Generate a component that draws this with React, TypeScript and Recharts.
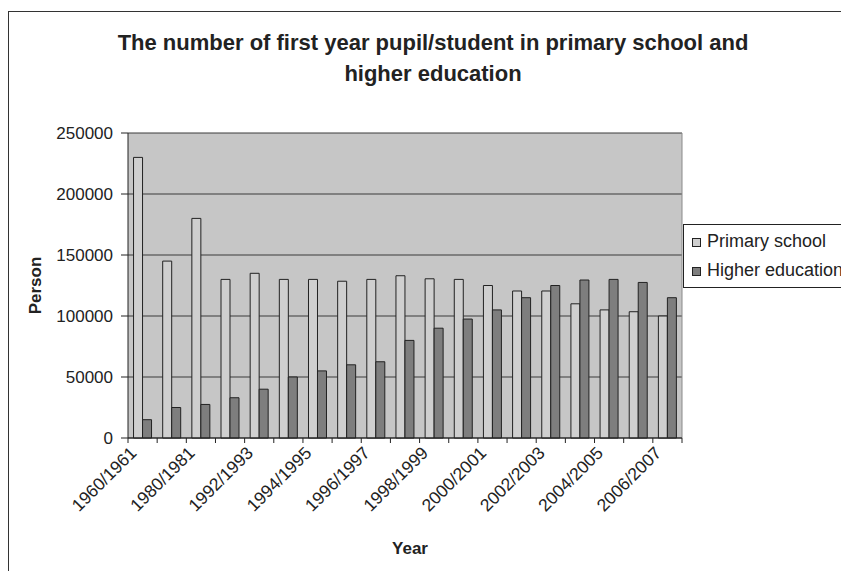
import React from 'react';
import { BarChart, Bar, XAxis, YAxis, CartesianGrid, Legend, Label } from 'recharts';

// School years on the category axis (only every other one is labelled)
const years = [
  '1960/1961', '1970/1971', '1980/1981', '1990/1991', '1992/1993', '1993/1994',
  '1994/1995', '1995/1996', '1996/1997', '1997/1998', '1998/1999', '1999/2000',
  '2000/2001', '2001/2002', '2002/2003', '2003/2004', '2004/2005', '2005/2006',
  '2006/2007',
];

// First-year pupils entering primary school
const primarySchool = [
  230000, 145000, 180000, 130000, 135000, 130000, 130000, 128500, 130000, 133000,
  130500, 130000, 125000, 120500, 120500, 110000, 105000, 103500, 100000,
];

// First-year students entering higher education
const higherEducation = [
  15000, 25000, 27500, 33000, 40000, 50000, 55000, 60000, 62500, 80000,
  90000, 97500, 105000, 115000, 125000, 129500, 130000, 127500, 115000,
];

const yTicks = [0, 50000, 100000, 150000, 200000, 250000];

const seriesOrder = ['Primary school', 'Higher education'];

const data = years.map((year, i) => ({
  year,
  primary: primarySchool[i],
  higher: higherEducation[i],
}));

const FONT = '"Liberation Sans", Arial, Helvetica, sans-serif';
const INK = '#222';

// Category ticks sit on the boundaries between groups; labels on every other group
const YearTick = (props: any) => {
  const { x, y, payload, index, visibleTicksCount } = props;
  const half = payload && typeof payload.offset === 'number' && payload.offset > 0 ? payload.offset : 14.6;
  const isLast = index === (visibleTicksCount ?? years.length) - 1;
  const tx = x - 5;
  const ty = y + 16;
  return (
    <g>
      <line x1={x - half} y1={y} x2={x - half} y2={y + 5} stroke={INK} strokeWidth={1} />
      {isLast && <line x1={x + half} y1={y} x2={x + half} y2={y + 5} stroke={INK} strokeWidth={1} />}
      {index % 2 === 0 && (
        <text
          x={tx}
          y={ty}
          transform={`rotate(-45, ${tx}, ${ty})`}
          textAnchor="end"
          fontSize={17.5}
          fontFamily={FONT}
          fill={INK}
        >
          {payload.value}
        </text>
      )}
    </g>
  );
};

const LegendBox = (props: any) => {
  const items = [...(props.payload ?? [])].sort(
    (a: any, b: any) => seriesOrder.indexOf(a.value) - seriesOrder.indexOf(b.value)
  );
  return (
    <div
      style={{
        border: `1px solid ${INK}`,
        background: '#fff',
        padding: '2px 0 2px 8px',
        fontFamily: FONT,
        fontSize: 18,
        color: INK,
        whiteSpace: 'nowrap',
      }}
    >
      {items.map((item: any) => (
        <div key={item.value} style={{ display: 'flex', alignItems: 'center', height: 29 }}>
          <span
            style={{
              display: 'inline-block',
              width: 7,
              height: 7,
              border: `1px solid ${INK}`,
              background: item.color,
              marginRight: 6,
              marginTop: 2,
            }}
          />
          <span>{item.value}</span>
        </div>
      ))}
    </div>
  );
};

export default function App() {
  return (
    <div
      style={{
        position: 'fixed',
        left: 0,
        top: 0,
        width: 841,
        height: 571,
        overflow: 'hidden',
        background: '#fff',
      }}
    >
      <div
        style={{
          position: 'absolute',
          left: 8,
          top: 11,
          width: 900,
          height: 700,
          borderLeft: '1px solid #333',
          borderTop: '1px solid #333',
        }}
      />
      <div
        style={{
          position: 'absolute',
          left: 8,
          top: 27,
          width: 850,
          textAlign: 'center',
          fontFamily: FONT,
          fontWeight: 'bold',
          fontSize: 22,
          lineHeight: '31px',
          color: INK,
        }}
      >
        The number of first year pupil/student in primary school and
        <br />
        higher education
      </div>
      <div style={{ position: 'absolute', left: 0, top: 0 }}>
        <BarChart
          width={841}
          height={571}
          data={data}
          margin={{ top: 133, right: 159, bottom: 33, left: 20 }}
          barCategoryGap="19%"
          barGap={0}
        >
          <CartesianGrid horizontal vertical={false} stroke="#3a3a3a" fill="#c6c6c6" />
          <CartesianGrid
            horizontal={false}
            vertical
            stroke="#8a8a8a"
            verticalCoordinatesGenerator={({ offset }: any) => [offset.left + offset.width]}
          />
          <XAxis
            dataKey="year"
            height={100}
            interval={0}
            tickLine={false}
            tickSize={0}
            tickMargin={0}
            axisLine={{ stroke: INK }}
            tick={<YearTick />}
          >
            <Label
              content={(p: any) => {
                const vb = p.viewBox;
                return (
                  <text
                    x={vb.x + vb.width / 2 + 5}
                    y={vb.y + 116}
                    textAnchor="middle"
                    fontFamily={FONT}
                    fontWeight="bold"
                    fontSize={17}
                    fill={INK}
                  >
                    Year
                  </text>
                );
              }}
            />
          </XAxis>
          <YAxis
            width={108}
            domain={[0, 250000]}
            ticks={yTicks}
            interval={0}
            tickSize={7}
            tickMargin={8}
            axisLine={{ stroke: INK }}
            tickLine={{ stroke: INK }}
            tick={{ fill: INK, fontSize: 17, fontFamily: FONT }}
          >
            <Label
              content={(p: any) => {
                const vb = p.viewBox;
                const cx = 41;
                const cy = vb.y + vb.height / 2;
                return (
                  <text
                    x={cx}
                    y={cy}
                    transform={`rotate(-90, ${cx}, ${cy})`}
                    textAnchor="middle"
                    fontFamily={FONT}
                    fontWeight="bold"
                    fontSize={17}
                    fill={INK}
                  >
                    Person
                  </text>
                );
              }}
            />
          </YAxis>
          <Legend
            layout="vertical"
            align="center"
            verticalAlign="middle"
            content={<LegendBox />}
            wrapperStyle={{ left: 683, top: 224, width: 200, right: 'auto', bottom: 'auto' }}
          />
          <Bar
            dataKey="primary"
            name="Primary school"
            fill="#cfcfcf"
            stroke={INK}
            strokeWidth={1}
            isAnimationActive={false}
          />
          <Bar
            dataKey="higher"
            name="Higher education"
            fill="#7e7e7e"
            stroke={INK}
            strokeWidth={1}
            isAnimationActive={false}
          />
        </BarChart>
      </div>
    </div>
  );
}
